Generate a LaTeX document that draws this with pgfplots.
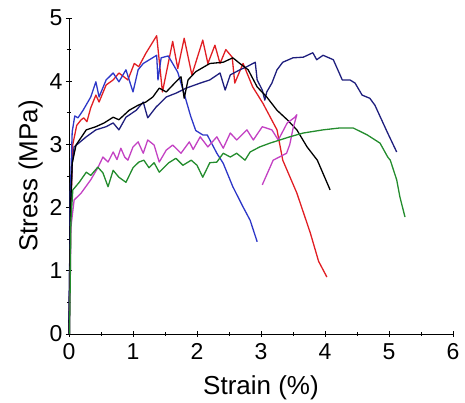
\documentclass[border=0pt]{standalone}
\usepackage{pgfplots}
\pgfplotsset{compat=1.18}
\usepackage{fontspec}
\setmainfont{Liberation Sans}
\definecolor{cred}{RGB}{225,30,35}
\definecolor{cblue}{RGB}{45,55,200}
\definecolor{cnavy}{RGB}{30,30,125}
\definecolor{cmag}{RGB}{195,65,195}
\definecolor{cgreen}{RGB}{35,140,45}
\begin{document}
\begin{tikzpicture}
\begin{axis}[
  scale only axis, width=384pt, height=316pt,
  xmin=0, xmax=6, ymin=0, ymax=5,
  axis lines=left, axis line style={-, line width=0.8pt},
  xtick={0,...,6}, ytick={0,...,5}, minor tick num=1,
  major tick length=6pt, minor tick length=4pt,
  tick style={line width=0.8pt, black},
  /pgf/number format/assume math mode=true,
  tick label style={font=\fontsize{23}{25}\selectfont},
  xticklabel style={yshift=-3pt},
  label style={font=\fontsize{26}{28}\selectfont},
  xlabel style={yshift=-9pt},
  xlabel={Strain (\%)}, ylabel={Stress (MPa)},
  every axis plot/.append style={line width=1.3pt, line join=round},
  clip=false,
]
% red
\addplot[cred] coordinates {(0,0) (0.03,2.0) (0.06,3.0) (0.12,3.3) (0.19,3.39) (0.23,3.42) (0.28,3.36) (0.34,3.58) (0.42,3.78) (0.47,3.67) (0.58,3.94) (0.69,4.02) (0.78,4.13) (0.92,4.02) (1.02,4.28) (1.09,4.23) (1.20,4.44) (1.37,4.72) (1.46,3.83) (1.62,4.63) (1.70,4.20) (1.80,4.68) (1.92,4.10) (2.09,4.65) (2.17,4.28) (2.28,4.57) (2.36,4.28) (2.45,4.50) (2.55,4.38) (2.59,3.97) (2.72,4.28) (2.87,3.91) (3.03,3.65) (3.25,3.23) (3.34,2.75) (3.56,2.23) (3.77,1.60) (3.90,1.15) (4.03,0.90)};
% blue
\addplot[cblue] coordinates {(0,0) (0.02,2.2) (0.05,3.2) (0.09,3.45) (0.14,3.42) (0.22,3.54) (0.34,3.75) (0.42,3.99) (0.47,3.75) (0.58,4.02) (0.69,4.13) (0.78,3.99) (0.89,4.18) (1.00,3.83) (1.08,4.18) (1.16,4.28) (1.37,4.41) (1.39,4.02) (1.44,4.37) (1.55,4.40) (1.62,4.28) (1.70,4.14) (1.80,3.80) (1.90,3.45) (1.98,3.22) (2.09,3.15) (2.16,3.15) (2.31,2.86) (2.41,2.70) (2.56,2.33) (2.72,2.01) (2.83,1.80) (2.94,1.46)};
% navy
\addplot[cnavy] coordinates {(0,0.17) (0.02,1.8) (0.05,2.7) (0.08,2.96) (0.27,3.12) (0.42,3.23) (0.58,3.28) (0.69,3.34) (0.78,3.23) (0.89,3.43) (1.05,3.54) (1.16,3.67) (1.23,3.42) (1.36,3.59) (1.52,3.75) (1.67,3.81) (1.83,3.89) (2.05,3.97) (2.20,4.02) (2.36,4.13) (2.44,3.86) (2.52,4.10) (2.67,4.18) (2.78,4.23) (2.91,4.30) (2.94,4.02) (3.02,3.86) (3.06,3.70) (3.09,3.83) (3.17,3.97) (3.25,4.18) (3.34,4.30) (3.50,4.37) (3.66,4.38) (3.81,4.45) (3.87,4.34) (3.97,4.41) (4.13,4.34) (4.27,4.02) (4.39,4.02) (4.47,3.97) (4.58,3.78) (4.70,3.73) (4.78,3.62) (4.97,3.20) (5.12,2.88)};
% black
\addplot[black] coordinates {(0,0) (0.02,1.9) (0.05,2.7) (0.11,2.99) (0.27,3.23) (0.42,3.28) (0.55,3.34) (0.69,3.43) (0.78,3.39) (0.94,3.54) (1.08,3.62) (1.20,3.67) (1.31,3.75) (1.41,3.89) (1.52,3.83) (1.67,3.99) (1.75,4.07) (1.80,3.73) (1.86,4.02) (1.98,4.15) (2.20,4.28) (2.41,4.30) (2.56,4.37) (2.67,4.28) (2.80,4.18) (2.94,3.91) (3.09,3.75) (3.25,3.54) (3.41,3.39) (3.56,3.23) (3.72,2.96) (3.88,2.75) (4.08,2.28)};
% magenta
\addplot[cmag] coordinates {(0.01,0) (0.03,1.69) (0.08,2.12) (0.19,2.23) (0.34,2.44) (0.45,2.63) (0.53,2.80) (0.61,2.72) (0.69,2.88) (0.75,2.76) (0.81,2.94) (0.87,2.80) (0.92,2.75) (1.00,2.96) (1.08,3.04) (1.16,2.86) (1.23,3.07) (1.33,2.99) (1.41,2.72) (1.52,2.91) (1.62,2.99) (1.75,2.86) (1.88,3.04) (1.94,2.92) (2.05,3.12) (2.17,2.96) (2.31,3.12) (2.41,2.94) (2.52,3.18) (2.62,3.07) (2.78,3.23) (2.88,3.07) (3.02,3.28) (3.17,3.23) (3.27,3.07) (3.41,3.34) (3.53,3.43) (3.56,3.47) (3.50,3.25) (3.45,3.00) (3.40,2.86) (3.19,2.75) (3.02,2.36)};
% green
\addplot[cgreen] coordinates {(0.01,0) (0.03,1.8) (0.06,2.28) (0.16,2.40) (0.27,2.56) (0.34,2.51) (0.45,2.64) (0.53,2.55) (0.61,2.33) (0.69,2.59) (0.78,2.48) (0.89,2.40) (1.00,2.63) (1.09,2.72) (1.17,2.75) (1.25,2.63) (1.33,2.71) (1.41,2.56) (1.56,2.71) (1.67,2.78) (1.78,2.67) (1.91,2.75) (2.00,2.67) (2.09,2.48) (2.20,2.71) (2.31,2.72) (2.41,2.86) (2.52,2.80) (2.62,2.86) (2.75,2.75) (2.83,2.88) (2.98,2.96) (3.14,3.02) (3.45,3.12) (3.66,3.18) (3.97,3.23) (4.23,3.26) (4.44,3.26) (4.66,3.15) (4.86,3.02) (4.98,2.80) (5.02,2.75) (5.12,2.44) (5.17,2.17) (5.25,1.85)};
\end{axis}
\pgfresetboundingbox
\path (-69pt,-69pt) rectangle (396pt,334pt);
\end{tikzpicture}
\end{document}
